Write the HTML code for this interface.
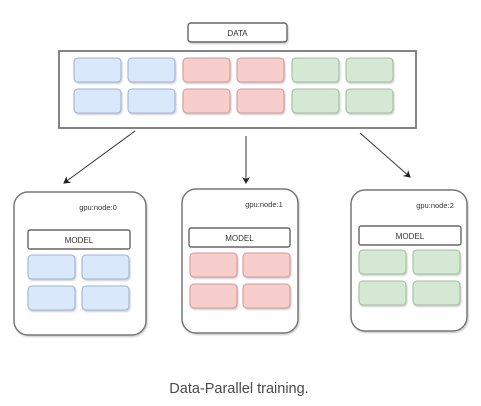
<!DOCTYPE html>
<html><head><meta charset="utf-8"><style>
html,body{margin:0;padding:0;background:#fff;}
svg{display:block;}
</style></head><body>
<svg width="481" height="406" viewBox="0 0 481 406" xmlns="http://www.w3.org/2000/svg">
<defs>
<marker id="ah" markerWidth="8" markerHeight="8" refX="6" refY="4" orient="auto" markerUnits="userSpaceOnUse">
<path d="M0,0 L7,4 L0,8 L2,4 z" fill="#222"/>
</marker>
<filter id="sh" x="-10%" y="-10%" width="130%" height="140%">
<feDropShadow dx="1" dy="1.5" stdDeviation="0.8" flood-color="#000" flood-opacity="0.18"/>
</filter>
</defs>
<g font-family="Liberation Sans, sans-serif">
<rect x="188" y="23" width="99" height="19" rx="3" fill="#fff" stroke="#666" stroke-width="1.4" filter="url(#sh)"/>
<text x="237.5" y="36" font-size="8" text-anchor="middle" fill="#333">DATA</text>
<rect x="59" y="51" width="357" height="77" fill="#fff" stroke="#777" stroke-width="1.8"/>
<g stroke-width="1.1" filter="url(#sh)">
<rect x="74" y="58" width="47" height="24" rx="4" fill="#dae8fc" stroke="#9db3d6"/>
<rect x="128" y="58" width="47" height="24" rx="4" fill="#dae8fc" stroke="#9db3d6"/>
<rect x="183" y="58" width="47" height="24" rx="4" fill="#f8cecc" stroke="#d09a98"/>
<rect x="237" y="58" width="47" height="24" rx="4" fill="#f8cecc" stroke="#d09a98"/>
<rect x="292" y="58" width="47" height="24" rx="4" fill="#d5e8d4" stroke="#9fbf9a"/>
<rect x="346" y="58" width="47" height="24" rx="4" fill="#d5e8d4" stroke="#9fbf9a"/>
<rect x="74" y="89" width="47" height="24" rx="4" fill="#dae8fc" stroke="#9db3d6"/>
<rect x="128" y="89" width="47" height="24" rx="4" fill="#dae8fc" stroke="#9db3d6"/>
<rect x="183" y="89" width="47" height="24" rx="4" fill="#f8cecc" stroke="#d09a98"/>
<rect x="237" y="89" width="47" height="24" rx="4" fill="#f8cecc" stroke="#d09a98"/>
<rect x="292" y="89" width="47" height="24" rx="4" fill="#d5e8d4" stroke="#9fbf9a"/>
<rect x="346" y="89" width="47" height="24" rx="4" fill="#d5e8d4" stroke="#9fbf9a"/>
</g>
<g stroke="#333" stroke-width="1" fill="none">
<line x1="135" y1="131" x2="64" y2="183" marker-end="url(#ah)"/>
<line x1="246" y1="136" x2="246" y2="183" marker-end="url(#ah)"/>
<line x1="360" y1="133" x2="410" y2="177" marker-end="url(#ah)"/>
</g>
<g filter="url(#sh)">
<rect x="14" y="192" width="132" height="143" rx="14" fill="#fff" stroke="#777" stroke-width="1.5"/>
<rect x="182" y="189" width="116" height="144" rx="14" fill="#fff" stroke="#777" stroke-width="1.5"/>
<rect x="351" y="190" width="116" height="141" rx="14" fill="#fff" stroke="#777" stroke-width="1.5"/>
</g>
<text x="98" y="210" font-size="7.5" text-anchor="middle" fill="#333">gpu:node:0</text>
<rect x="28" y="230" width="102" height="19" rx="2" fill="#fff" stroke="#666" stroke-width="1.4"/>
<text x="79" y="243" font-size="8" text-anchor="middle" fill="#333">MODEL</text>
<g stroke-width="1.1" filter="url(#sh)">
<rect x="28" y="255" width="47" height="24" rx="4" fill="#dae8fc" stroke="#9db3d6"/>
<rect x="82" y="255" width="47" height="24" rx="4" fill="#dae8fc" stroke="#9db3d6"/>
<rect x="28" y="286" width="47" height="24" rx="4" fill="#dae8fc" stroke="#9db3d6"/>
<rect x="82" y="286" width="47" height="24" rx="4" fill="#dae8fc" stroke="#9db3d6"/>
</g>
<text x="264" y="207" font-size="7.5" text-anchor="middle" fill="#333">gpu:node:1</text>
<rect x="189" y="228" width="101" height="19" rx="2" fill="#fff" stroke="#666" stroke-width="1.4"/>
<text x="239.5" y="241" font-size="8" text-anchor="middle" fill="#333">MODEL</text>
<g stroke-width="1.1" filter="url(#sh)">
<rect x="190" y="253" width="47" height="24" rx="4" fill="#f8cecc" stroke="#d09a98"/>
<rect x="243" y="253" width="47" height="24" rx="4" fill="#f8cecc" stroke="#d09a98"/>
<rect x="190" y="284" width="47" height="24" rx="4" fill="#f8cecc" stroke="#d09a98"/>
<rect x="243" y="284" width="47" height="24" rx="4" fill="#f8cecc" stroke="#d09a98"/>
</g>
<text x="435" y="208" font-size="7.5" text-anchor="middle" fill="#333">gpu:node:2</text>
<rect x="359" y="226" width="102" height="19" rx="2" fill="#fff" stroke="#666" stroke-width="1.4"/>
<text x="410" y="239" font-size="8" text-anchor="middle" fill="#333">MODEL</text>
<g stroke-width="1.1" filter="url(#sh)">
<rect x="359" y="250" width="47" height="24" rx="4" fill="#d5e8d4" stroke="#9fbf9a"/>
<rect x="413" y="250" width="47" height="24" rx="4" fill="#d5e8d4" stroke="#9fbf9a"/>
<rect x="359" y="281" width="47" height="24" rx="4" fill="#d5e8d4" stroke="#9fbf9a"/>
<rect x="413" y="281" width="47" height="24" rx="4" fill="#d5e8d4" stroke="#9fbf9a"/>
</g>
<text x="239" y="393" font-size="14.5" text-anchor="middle" fill="#4a4a4a">Data-Parallel training.</text>
</g>
</svg>
</body></html>
